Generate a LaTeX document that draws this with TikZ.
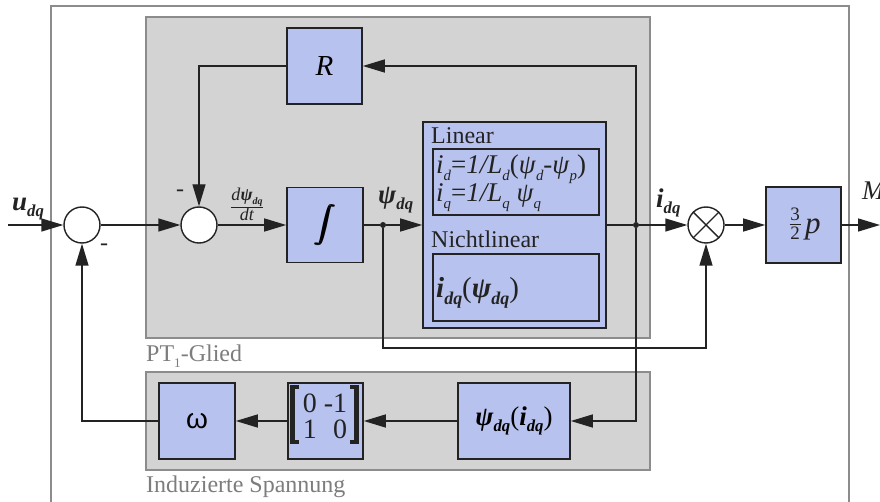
\documentclass[tikz,border=0pt]{standalone}
\usepackage{fontspec}
\setmainfont{Liberation Serif}
\newfontfamily\sansw{Liberation Sans}
\usetikzlibrary{arrows.meta}
\definecolor{blockfill}{RGB}{184,194,238}
\definecolor{grayfill}{RGB}{211,211,211}
\definecolor{grayline}{RGB}{140,140,140}
\definecolor{lbl}{RGB}{125,125,125}
\definecolor{ink}{RGB}{35,35,35}
\newcommand\sbs[1]{\raisebox{-0.25em}{\scalebox{0.55}{#1}}}
\newcommand\sbl[1]{\raisebox{-0.22em}{\scalebox{0.62}{#1}}}
\newcommand\bi[1]{\textbf{\textit{#1}}}
\newcommand\bigint{\scalebox{2.1}[1.85]{$\displaystyle\int$}}
\begin{document}
\begin{tikzpicture}[x=1pt,y=-1pt,
  blk/.style={draw=ink,line width=1.6pt,fill=blockfill,inner sep=0pt},
  grp/.style={draw=grayline,line width=1.8pt,fill=grayfill},
  sumj/.style={circle,draw=ink,line width=1.4pt,fill=white,minimum size=36pt,inner sep=0pt},
  conn/.style={draw=ink,line width=1.4pt},
  arr/.style={conn,-{Triangle[length=22pt,width=13pt]}},
  dotn/.style={circle,fill=ink,minimum size=6pt,inner sep=0pt},
  txt/.style={font=\fontsize{24}{28}\selectfont,text=ink,inner sep=0pt},
  glabel/.style={font=\fontsize{24}{28}\selectfont,text=lbl,inner sep=0pt,anchor=base west},
  sig/.style={font=\fontsize{27}{28}\selectfont,text=ink,inner sep=0pt,anchor=base west},
]
\useasboundingbox (0,0) rectangle (880,502);
\clip (0,0) rectangle (880,502);
\fill[white] (0,0) rectangle (880,502);
\draw[grayline,line width=2pt] (51,6) rectangle (849,530);
\draw[grp] (146,17) rectangle (650,338);
\draw[grp] (146,372) rectangle (650,470);
\node[glabel] (lpt) at (146,361) {PT\sbs{1}-Glied};
\node[glabel] (lind) at (146,492) {Induzierte Spannung};

% junctions
\node[sumj] (s1) at (82,225) {};
\node[sumj] (s2) at (199,225) {};
\node[sumj] (mu) at (706,225) {};
\draw[conn] (mu.north west) -- (mu.south east) (mu.north east) -- (mu.south west);
\node[txt] (m1) at (104,247) {-};
\node[txt] (m2) at (180,193) {-};

% blocks
\node[blk,minimum width=75pt,minimum height=76pt] (R) at (324.5,66) {\fontsize{29}{29}\selectfont\textit{R}};
\node[blk,minimum width=76pt,minimum height=75pt] (int) at (325,225)
  {\rlap{\bigint}\hspace{0.7pt}\rlap{\bigint}\hspace{0.7pt}\bigint};
\node[blk,minimum width=183pt,minimum height=206pt] (big) at (514.5,225) {};
\node[blk,minimum width=166pt,minimum height=66pt] (lin) at (516,182) {};
\node[blk,minimum width=166pt,minimum height=67pt] (nl) at (516,287.5) {};
\node[txt,anchor=base west] (tlin) at (431,144) {Linear};
\node[txt,anchor=base west] (tnl) at (431,248) {Nichtlinear};
\node[txt,font=\fontsize{27}{28}\selectfont,anchor=base west] (eq1) at (436,174) {\textit{i}\sbs{\textit{d}}=\textit{1/L}\sbs{\textit{d}}(\textit{ψ}\sbs{\textit{d}}-\textit{ψ}\sbs{\textit{p}})};
\node[txt,font=\fontsize{27}{28}\selectfont,anchor=base west] (eq2) at (436,202) {\textit{i}\sbs{\textit{q}}=\textit{1/L}\sbs{\textit{q}} \textit{ψ}\sbs{\textit{q}}};
\node[sig,font=\fontsize{29}{30}\selectfont] (eq3) at (436,298) {\bi{i}\sbl{\bi{dq}}(\bi{ψ}\sbl{\bi{dq}})};
\node[blk,minimum width=75pt,minimum height=76pt] (pb) at (803.5,225) {};
\node[txt,font=\fontsize{19}{19}\selectfont,anchor=base] (n3) at (795,221) {3};
\node[txt,font=\fontsize{19}{19}\selectfont,anchor=base] (n2) at (795,240) {2};
\draw[ink,line width=0.8pt] (789.5,224.5) -- (800.5,224.5);
\node[txt,font=\fontsize{31}{31}\selectfont,anchor=base west] (pp) at (805,234) {\textit{p}};

\node[blk,minimum width=76pt,minimum height=76pt] (om) at (197,421) {\fontsize{28}{28}\selectfont\sansw ω};
\node[blk,minimum width=75pt,minimum height=76pt] (mtx) at (325.5,421) {};
\node[txt,font=\fontsize{28}{28}\selectfont] (mv) at (325,420)
  {\begin{tabular}{@{}c@{\hspace{7pt}}r@{}}0 & -1\\[-2pt] 1 & 0\end{tabular}};
\draw[ink,line width=4.5pt] (299,387) -- (292.5,387) -- (292.5,442) -- (299,442);
\draw[ink,line width=4.5pt] (350,387) -- (356.5,387) -- (356.5,442) -- (350,442);
\node[blk,minimum width=112pt,minimum height=76pt] (psii) at (514,421)
  {\fontsize{27}{28}\selectfont\bi{ψ}\sbl{\bi{dq}}(\bi{i}\sbl{\bi{dq}})};

% signal labels
\node[sig] (lu) at (12,211) {\bi{u}\sbl{\bi{dq}}};
\node[txt,font=\fontsize{18}{18}\selectfont] (ldp) at (247,204)
  {$\frac{\mbox{\textit{d}\bi{ψ}\sbs{\bi{dq}}}}{\mbox{\textit{dt}}}$};
\node[sig] (lpsi) at (378,204) {\bi{ψ}\sbl{\bi{dq}}};
\node[sig] (li) at (656,208) {\bi{i}\sbl{\bi{dq}}};
\node[sig] (lm) at (862,200) {\textit{M}};

% connectors
\coordinate (in) at (8,225);
\coordinate (out) at (880,225);
\node[dotn] (d1) at (383,225) {};
\node[dotn] (d2) at (636,225) {};
\coordinate (c1) at (383,348);
\draw[arr] (in) -- (s1);
\draw[arr] (s1) -- (s2);
\draw[arr] (s2) -- (int);
\draw[conn] (int) -- (d1);
\draw[arr] (d1) -- (big);
\draw[conn] (big) -- (d2);
\draw[arr] (d2) -- (mu);
\draw[arr] (mu) -- (pb);
\draw[arr] (pb) -- (out);
\draw[arr] (d2) |- (R);
\draw[arr] (R) -| (s2);
\draw[arr] (d1) -- (c1) -| (mu);
\draw[arr] (d2) |- (psii);
\draw[arr] (psii) -- (mtx);
\draw[arr] (mtx) -- (om);
\draw[arr] (om) -| (s1);
\end{tikzpicture}
\end{document}
